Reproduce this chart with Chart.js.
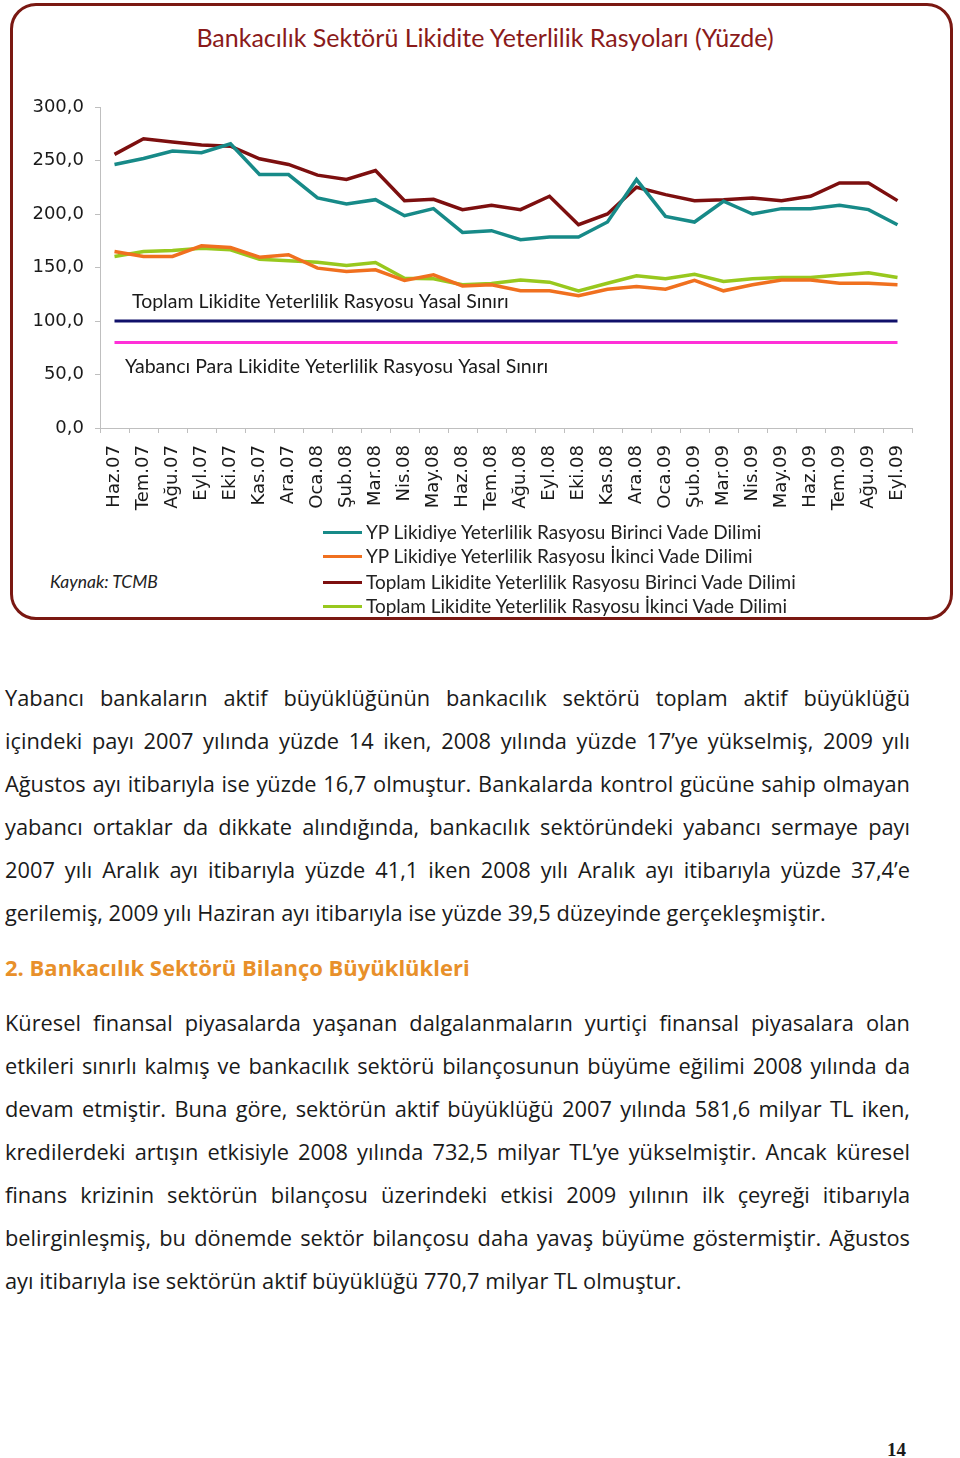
<!DOCTYPE html>
<html lang="tr">
<head>
<meta charset="utf-8">
<script src="https://cdn.jsdelivr.net/npm/chart.js@4.4.0/dist/chart.umd.min.js"></script>
<style>
    body { margin: 0; background: #fff; width: 960px; height: 1458px; position: relative; font-family: "Open Sans", Lato, sans-serif; color: #1a1a1a; }
    #box { position: absolute; left: 10px; top: 3px; width: 937px; height: 611px; border: 3px solid #7a1812; border-radius: 26px; }
    #title { position: absolute; left: 185px; width: 600px; top: 22px; text-align: center; font-family: Lato, sans-serif; font-size: 25px; color: #8a1a1a; white-space: nowrap; }
    #chart-wrap { position: absolute; left: 0; top: 0; width: 960px; height: 522px; }
    .narrow { font-family: Lato, sans-serif; }
    #legend { position: absolute; left: 323px; top: 520px; }
    .leg-row { position: absolute; left: 0; height: 20px; white-space: nowrap; font-size: 19px; color: #222; }
    .leg-row span.sw { position: absolute; left: 0; top: 10px; width: 39px; height: 3px; }
    .leg-row span.tx { position: absolute; left: 43px; top: 0; line-height: 22px; }
    #source { position: absolute; left: 50px; top: 571px; font-size: 17.5px; font-style: italic; color: #222; }
    .txt { position: absolute; left: 5px; width: 905px; font-size: 21.8px; line-height: 43px; }
    .txt div { text-align: justify; text-align-last: justify; white-space: nowrap; height: 43px; }
    .txt div.last { text-align-last: left; }
    #head2 { position: absolute; left: 5px; top: 952px; font-size: 22px; font-weight: bold; color: #e8902a; }
    #pageno { position: absolute; left: 887px; top: 1439px; font-family: "Liberation Serif", serif; font-weight: bold; font-size: 19px; }
</style>
</head>
<body>
<div id="box"></div>
<div id="title">Bankacılık Sektörü Likidite Yeterlilik Rasyoları (Yüzde)</div>
<div id="chart-wrap"><canvas id="chart-likidite"></canvas></div>
<div id="legend" class="narrow"></div>
<div id="source" class="narrow">Kaynak: TCMB</div>

<div class="txt" style="top:676px">
    <div>Yabancı bankaların aktif büyüklüğünün bankacılık sektörü toplam aktif büyüklüğü</div>
    <div>içindeki payı 2007 yılında yüzde 14 iken, 2008 yılında yüzde 17’ye yükselmiş, 2009 yılı</div>
    <div>Ağustos ayı itibarıyla ise yüzde 16,7 olmuştur. Bankalarda kontrol gücüne sahip olmayan</div>
    <div>yabancı ortaklar da dikkate alındığında, bankacılık sektöründeki yabancı sermaye payı</div>
    <div>2007 yılı Aralık ayı itibarıyla yüzde 41,1 iken 2008 yılı Aralık ayı itibarıyla yüzde 37,4’e</div>
    <div class="last">gerilemiş, 2009 yılı Haziran ayı itibarıyla ise yüzde 39,5 düzeyinde gerçekleşmiştir.</div>
</div>
<div id="head2">2. Bankacılık Sektörü Bilanço Büyüklükleri</div>
<div class="txt" style="top:1001px">
    <div>Küresel finansal piyasalarda yaşanan dalgalanmaların yurtiçi finansal piyasalara olan</div>
    <div>etkileri sınırlı kalmış ve bankacılık sektörü bilançosunun büyüme eğilimi 2008 yılında da</div>
    <div>devam etmiştir. Buna göre, sektörün aktif büyüklüğü 2007 yılında 581,6 milyar TL iken,</div>
    <div>kredilerdeki artışın etkisiyle 2008 yılında 732,5 milyar TL’ye yükselmiştir. Ancak küresel</div>
    <div>finans krizinin sektörün bilançosu üzerindeki etkisi 2009 yılının ilk çeyreği itibarıyla</div>
    <div>belirginleşmiş, bu dönemde sektör bilançosu daha yavaş büyüme göstermiştir. Ağustos</div>
    <div class="last">ayı itibarıyla ise sektörün aktif büyüklüğü 770,7 milyar TL olmuştur.</div>
</div>
<div id="pageno">14</div>

<script>
// aylar
let labels = ['Haz.07', 'Tem.07', 'Ağu.07', 'Eyl.07', 'Eki.07', 'Kas.07', 'Ara.07',
    'Oca.08', 'Şub.08', 'Mar.08', 'Nis.08', 'May.08', 'Haz.08', 'Tem.08', 'Ağu.08', 'Eyl.08', 'Eki.08', 'Kas.08', 'Ara.08',
    'Oca.09', 'Şub.09', 'Mar.09', 'Nis.09', 'May.09', 'Haz.09', 'Tem.09', 'Ağu.09', 'Eyl.09'];

// seriler (yüzde)
let ypBirinci = [246.3, 251.9, 258.8, 257.2, 265.6, 236.9, 236.9, 215.0, 209.4, 213.4, 198.4, 205.0, 182.8, 184.4,
    176.0, 178.4, 178.4, 192.5, 232.2, 197.8, 192.5, 211.9, 200.0, 205.0, 205.0, 208.1, 204.1, 190.0];
let ypIkinci = [165.0, 160.3, 160.3, 170.3, 168.7, 159.7, 161.9, 149.4, 146.3, 147.8, 137.8, 143.1, 132.8, 133.8,
    128.2, 128.2, 123.7, 129.7, 132.2, 129.7, 138.1, 128.2, 133.8, 138.4, 138.4, 135.3, 135.3, 133.8];
let toplamBirinci = [255.7, 270.3, 267.2, 264.4, 263.4, 251.6, 246.3, 236.3, 232.2, 240.6, 212.5, 213.8, 204.1, 208.1,
    204.1, 216.6, 190.0, 200.0, 225.0, 218.1, 212.5, 213.4, 215.0, 212.5, 216.6, 229.0, 229.0, 212.5];
let toplamIkinci = [160.3, 165.0, 165.9, 168.1, 166.6, 157.8, 156.3, 155.0, 151.9, 154.7, 140.0, 139.4, 133.8, 135.0,
    138.4, 136.3, 128.2, 135.3, 142.2, 139.4, 143.7, 136.9, 139.4, 140.6, 140.6, 143.1, 145.0, 140.6];

// yasal sınırlar
let toplamSinir = 100;
let ypSinir = 80;

let yTicks = [0, 50, 100, 150, 200, 250, 300];

let seriesNames = [
    'YP Likidiye Yeterlilik Rasyosu Birinci Vade Dilimi',
    'YP Likidiye Yeterlilik Rasyosu İkinci Vade Dilimi',
    'Toplam Likidite Yeterlilik Rasyosu Birinci Vade Dilimi',
    'Toplam Likidite Yeterlilik Rasyosu İkinci Vade Dilimi'
];
let seriesColors = ['#178a88', '#f0701f', '#7d0f0f', '#98c81e'];
let seriesData = [ypBirinci, ypIkinci, toplamBirinci, toplamIkinci];

let datasets = seriesData.map((d, i) => ({
    label: seriesNames[i],
    data: d,
    borderColor: seriesColors[i],
    backgroundColor: seriesColors[i],
    borderWidth: 3.5,
    pointRadius: 0,
    tension: 0
}));
datasets.push({
    label: 'Toplam Likidite Yeterlilik Rasyosu Yasal Sınırı',
    data: labels.map(() => toplamSinir),
    borderColor: '#10106a', borderWidth: 3, pointRadius: 0
});
datasets.push({
    label: 'Yabancı Para Likidite Yeterlilik Rasyosu Yasal Sınırı',
    data: labels.map(() => ypSinir),
    borderColor: '#ff30d8', borderWidth: 3, pointRadius: 0
});

// sınır çizgilerinin yazıları
const limitText = {
    id: 'limitText',
    afterDatasetsDraw(chart) {
        const ctx = chart.ctx;
        const y = chart.scales.y;
        ctx.save();
        ctx.fillStyle = '#1a1a1a';
        ctx.font = '19.5px Lato, sans-serif';
        ctx.textBaseline = 'middle';
        ctx.fillText('Toplam Likidite Yeterlilik Rasyosu Yasal Sınırı', chart.chartArea.left + 32, y.getPixelForValue(118));
        ctx.fillText('Yabancı Para Likidite Yeterlilik Rasyosu Yasal Sınırı', chart.chartArea.left + 25, y.getPixelForValue(57));
        ctx.restore();
    }
};

const canvas = document.getElementById('chart-likidite');
canvas._chartInstance = new Chart(canvas.getContext('2d'), {
    type: 'line',
    data: { labels: labels, datasets: datasets },
    plugins: [limitText],
    options: {
        responsive: true,
        maintainAspectRatio: false,
        animation: false,
        layout: { padding: { left: 0, right: 48, top: 107, bottom: 0 } },
        plugins: {
            legend: { display: false },
            tooltip: { enabled: false }
        },
        scales: {
            x: {
                offset: true,
                grid: { offset: true, drawOnChartArea: false, drawTicks: true, tickLength: 5, color: '#bfbfbf' },
                border: { color: '#bfbfbf' },
                ticks: {
                    minRotation: 90, maxRotation: 90, autoSkip: false, padding: 12,
                    color: '#1a1a1a',
                    font: { family: 'DejaVu Sans', size: 18 }
                },
                afterFit: scale => { scale.height = 94; }
            },
            y: {
                min: 0, max: 300,
                afterBuildTicks: scale => { scale.ticks = yTicks.map(v => ({ value: v })); },
                grid: { drawOnChartArea: false, drawTicks: true, tickLength: 5, color: '#bfbfbf' },
                border: { color: '#bfbfbf' },
                ticks: {
                    padding: 11,
                    color: '#1a1a1a',
                    font: { family: 'DejaVu Sans', size: 18 },
                    callback: v => v.toFixed(1).replace('.', ',')
                },
                afterFit: scale => { scale.width = 100; }
            }
        }
    }
});

// açıklama (legend)
let legend = document.getElementById('legend');
let legendTops = [1, 25, 51, 75];
seriesNames.forEach((name, i) => {
    let row = document.createElement('div');
    row.className = 'leg-row';
    row.style.top = legendTops[i] + 'px';
    row.innerHTML = '<span class="sw" style="background:' + seriesColors[i] + '"></span><span class="tx">' + name + '</span>';
    legend.appendChild(row);
});
</script>
</body>
</html>
